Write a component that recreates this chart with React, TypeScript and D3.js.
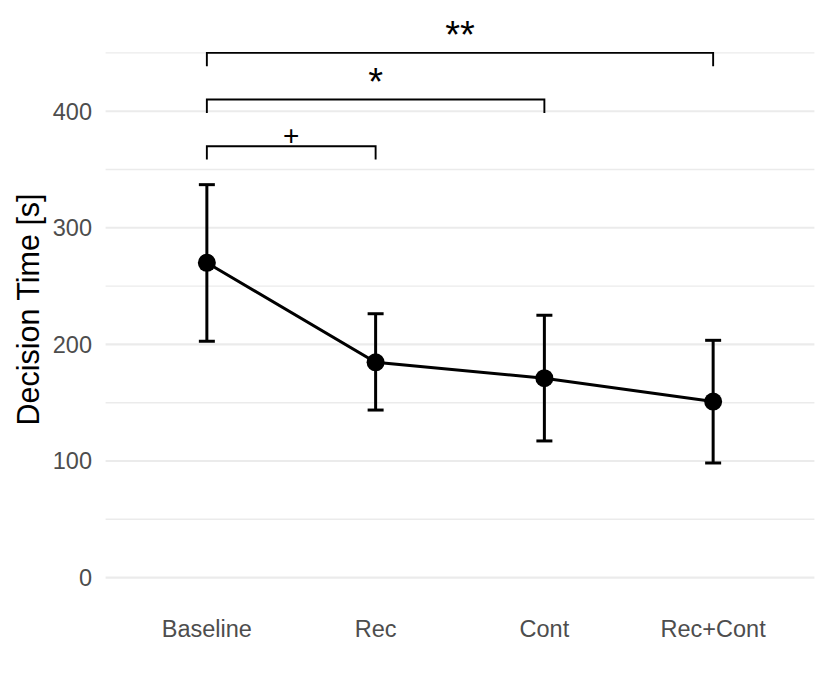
import React from "react";
import * as d3 from "d3";

const categories = ["Baseline", "Rec", "Cont", "Rec+Cont"];
const means = [270, 184.6, 171, 151];
const upper = [337, 226.3, 225, 203.5];
const lower = [202.7, 143.7, 117.2, 98.3];

const yTicks = [0, 100, 200, 300, 400];
const yMinorTicks = [50, 150, 250, 350, 450];

const bracketFrom = ["Baseline", "Baseline", "Baseline"];
const bracketTo = ["Rec", "Cont", "Rec+Cont"];
const bracketY = [370, 410, 450];
const bracketLabels = ["+", "*", "**"];

const width = 830;
const height = 692;
const font = "'Liberation Sans', Arial, Helvetica, sans-serif";

const App = () => {
  const x = d3
    .scalePoint<string>()
    .domain(categories)
    .range([105.6, 814.4])
    .padding(0.6);

  const y = d3.scaleLinear().domain([0, 400]).range([577.6, 111.2]);

  const [x0, x1] = x.range();

  const pts = categories.map((c, i) => ({ c, m: means[i], hi: upper[i], lo: lower[i] }));

  const line = d3
    .line<{ c: string; m: number }>()
    .x((d) => x(d.c)!)
    .y((d) => y(d.m));

  const tip = 11.5;
  const capHalf = 8;

  return (
    <svg
      width={width}
      height={height}
      style={{ position: "absolute", left: 0, top: 0, background: "#fff" }}
      fontFamily={font}
    >
      {/* grid */}
      {yMinorTicks.map((t) => (
        <line key={"mi" + t} x1={x0} x2={x1} y1={y(t)} y2={y(t)} stroke="#EBEBEB" strokeWidth={1.4} />
      ))}
      {yTicks.map((t) => (
        <line key={"ma" + t} x1={x0} x2={x1} y1={y(t)} y2={y(t)} stroke="#EBEBEB" strokeWidth={2.1} />
      ))}

      {/* y tick labels */}
      {yTicks.map((t) => (
        <text key={"yl" + t} x={92} y={y(t) + 8.4} textAnchor="end" fontSize={23.5} fill="#4D4D4D">
          {t}
        </text>
      ))}

      {/* x tick labels */}
      {categories.map((c) => (
        <text key={"xl" + c} x={x(c)} y={637} textAnchor="middle" fontSize={23.5} fill="#4D4D4D">
          {c}
        </text>
      ))}

      {/* y title */}
      <text
        transform={`translate(39,309.5) rotate(-90)`}
        textAnchor="middle"
        fontSize={30.5}
        fill="#000"
      >
        Decision Time [s]
      </text>

      {/* line */}
      <path d={line(pts) || ""} fill="none" stroke="#000" strokeWidth={3} />

      {/* error bars */}
      {pts.map((d) => (
        <g key={"eb" + d.c} stroke="#000" strokeWidth={3}>
          <line x1={x(d.c)} x2={x(d.c)} y1={y(d.hi)} y2={y(d.lo)} />
          <line x1={x(d.c)! - capHalf} x2={x(d.c)! + capHalf} y1={y(d.hi)} y2={y(d.hi)} />
          <line x1={x(d.c)! - capHalf} x2={x(d.c)! + capHalf} y1={y(d.lo)} y2={y(d.lo)} />
        </g>
      ))}

      {/* points */}
      {pts.map((d) => (
        <circle key={"pt" + d.c} cx={x(d.c)} cy={y(d.m)} r={9} fill="#000" />
      ))}

      {/* significance brackets */}
      {bracketY.map((by, i) => {
        const xa = x(bracketFrom[i])!;
        const xb = x(bracketTo[i])!;
        const isStar = bracketLabels[i].startsWith("*");
        return (
          <g key={"br" + i}>
            <path
              d={`M${xa},${y(by - tip)}V${y(by)}H${xb}V${y(by - tip)}`}
              fill="none"
              stroke="#000"
              strokeWidth={1.9}
            />
            <text
              x={(xa + xb) / 2}
              y={y(by) - (isStar ? 5 : 1)}
              textAnchor="middle"
              fontSize={isStar ? 38 : 28}
              fill="#000"
            >
              {bracketLabels[i]}
            </text>
          </g>
        );
      })}
    </svg>
  );
};

export default App;
